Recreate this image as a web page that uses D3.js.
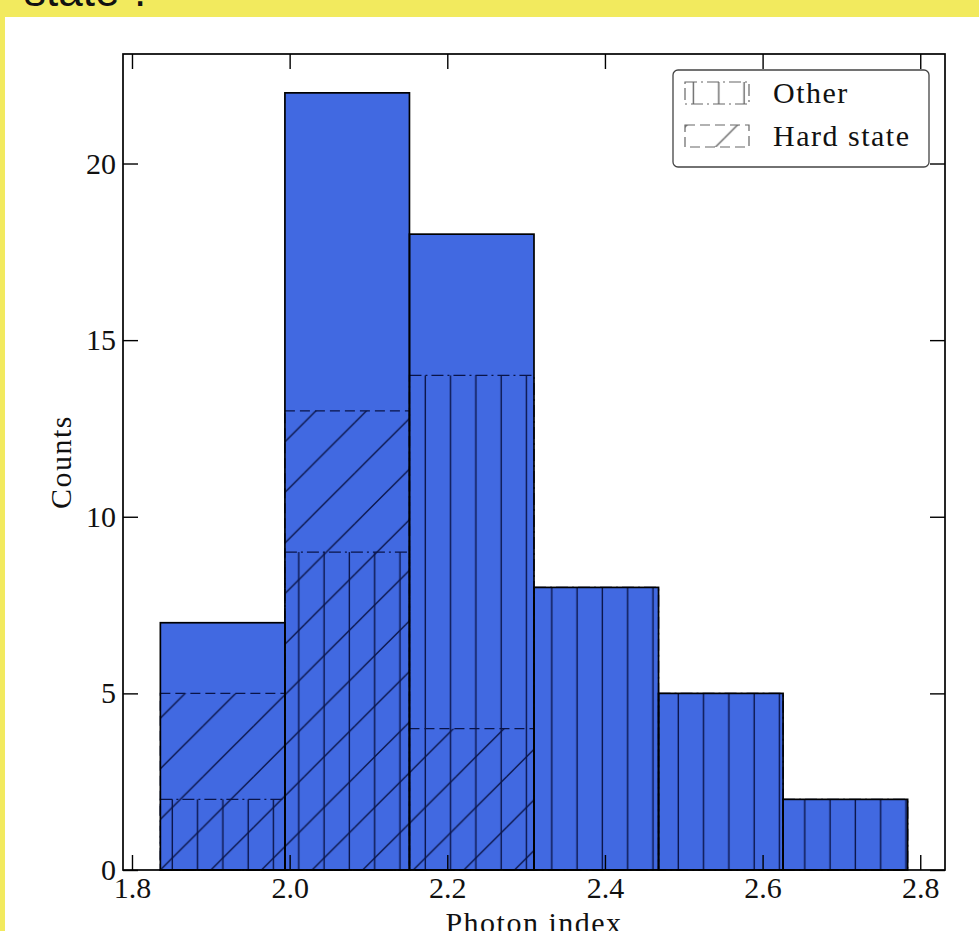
<!DOCTYPE html>
<html>
<head>
<meta charset="utf-8">
<script src="https://cdn.jsdelivr.net/npm/d3@7"></script>
<style>
  html, body { margin: 0; padding: 0; background: #f2ea5e; }
  svg { display: block; }
</style>
</head>
<body>
<div id="chart"></div>
<script>
// histogram bins (photon index) and counts per bin
const binEdges = [1.836, 1.994, 2.152, 2.310, 2.468, 2.626, 2.784];
const totalCounts = [7, 22, 18, 8, 5, 2];
const hardCounts = [5, 13, 4, 0, 0, 0];
const otherCounts = [2, 9, 14, 8, 5, 2];

const xTicks = [1.8, 2.0, 2.2, 2.4, 2.6, 2.8];
const yTicks = [0, 5, 10, 15, 20];
const legendLabels = ["Other", "Hard state"];

const W = 979, H = 931;
const margin = {top: 54, right: 34, bottom: 61, left: 123};
const hatchColor = "#0a1448";
const serif = "'Liberation Serif', 'Times New Roman', serif";

const svg = d3.select("#chart").append("svg")
    .attr("width", W)
    .attr("height", H);

// yellow slide background + white panel
svg.append("rect").attr("width", W).attr("height", H).attr("fill", "#f2ea5e");
svg.append("text")
    .attr("x", 24).attr("y", 6)
    .attr("font-family", "'Liberation Sans', Arial, sans-serif")
    .attr("font-size", 44)
    .attr("fill", "#111")
    .text("state\u201d.");
svg.append("rect").attr("x", 5).attr("y", 17).attr("width", W - 5).attr("height", H - 17).attr("fill", "#ffffff");

// scales, with 5% padding like matplotlib
const span = binEdges[binEdges.length - 1] - binEdges[0];
const x = d3.scaleLinear()
    .domain([binEdges[0] - 0.05 * span, binEdges[binEdges.length - 1] + 0.05 * span])
    .range([margin.left, W - margin.right]);
const y = d3.scaleLinear()
    .domain([0, d3.max(totalCounts) * 1.05])
    .range([H - margin.bottom, margin.top]);

// hatch patterns
const defs = svg.append("defs");
function vHatch(id, color) {
    let p = defs.append("pattern").attr("id", id)
        .attr("patternUnits", "userSpaceOnUse")
        .attr("x", 8.5).attr("y", 0)
        .attr("width", 25.3).attr("height", 20);
    p.append("line").attr("x1", 12).attr("x2", 12).attr("y1", -2).attr("y2", 22)
        .attr("stroke", color).attr("stroke-width", 1.4);
}
function dHatch(id, color) {
    let s = 50.6, c = 18.3;
    let p = defs.append("pattern").attr("id", id)
        .attr("patternUnits", "userSpaceOnUse")
        .attr("x", 0).attr("y", 0)
        .attr("width", s).attr("height", s);
    [-1, 0, 1, 2].forEach(function(k) {
        let v = c + k * s;
        p.append("line")
            .attr("x1", v + 10).attr("y1", -10)
            .attr("x2", v - s - 10).attr("y2", s + 10)
            .attr("stroke", color).attr("stroke-width", 1.4);
    });
}
vHatch("hatch-v", hatchColor);
dHatch("hatch-d", hatchColor);
vHatch("hatch-v-leg", "#666");
dHatch("hatch-d-leg", "#666");

const bins = totalCounts.map(function(c, i) {
    return {x0: binEdges[i], x1: binEdges[i + 1], total: c, hard: hardCounts[i], other: otherCounts[i]};
});

// filled total bars
svg.selectAll(".bar-fill")
    .data(bins)
    .enter().append("rect")
    .attr("class", "bar-fill")
    .attr("x", d => x(d.x0))
    .attr("y", d => y(d.total))
    .attr("width", d => x(d.x1) - x(d.x0))
    .attr("height", d => y(0) - y(d.total))
    .attr("fill", "#4169e1");

// hard state (diagonal hatch, dashed edge)
svg.selectAll(".bar-hard")
    .data(bins.filter(d => d.hard > 0))
    .enter().append("rect")
    .attr("class", "bar-hard")
    .attr("x", d => x(d.x0))
    .attr("y", d => y(d.hard))
    .attr("width", d => x(d.x1) - x(d.x0))
    .attr("height", d => y(0) - y(d.hard))
    .attr("fill", "url(#hatch-d)")
    .attr("stroke", hatchColor)
    .attr("stroke-width", 1.3)
    .attr("stroke-dasharray", "10,5");

// other (vertical hatch, dash-dot edge)
svg.selectAll(".bar-other")
    .data(bins.filter(d => d.other > 0))
    .enter().append("rect")
    .attr("class", "bar-other")
    .attr("x", d => x(d.x0))
    .attr("y", d => y(d.other))
    .attr("width", d => x(d.x1) - x(d.x0))
    .attr("height", d => y(0) - y(d.other))
    .attr("fill", "url(#hatch-v)")
    .attr("stroke", hatchColor)
    .attr("stroke-width", 1.3)
    .attr("stroke-dasharray", "12,4,2,4");

// solid outlines of the total bars
svg.selectAll(".bar-edge")
    .data(bins)
    .enter().append("rect")
    .attr("class", "bar-edge")
    .attr("x", d => x(d.x0))
    .attr("y", d => y(d.total))
    .attr("width", d => x(d.x1) - x(d.x0))
    .attr("height", d => y(0) - y(d.total))
    .attr("fill", "none")
    .attr("stroke", "#000")
    .attr("stroke-width", 1.7);

// axes: ticks inside on all four sides
const tickLen = 15;
function styleAxis(g) {
    g.select(".domain").remove();
    g.selectAll(".tick line").attr("stroke", "#000").attr("stroke-width", 1.4);
    g.selectAll(".tick text")
        .attr("font-family", serif)
        .attr("font-size", 30)
        .attr("fill", "#111");
}
svg.append("g")
    .attr("transform", `translate(0,${y(0)})`)
    .call(d3.axisBottom(x).tickValues(xTicks).tickSizeInner(-tickLen).tickSizeOuter(0)
        .tickPadding(7).tickFormat(d3.format(".1f")))
    .call(styleAxis);
svg.append("g")
    .attr("transform", `translate(0,${margin.top})`)
    .call(d3.axisTop(x).tickValues(xTicks).tickSizeInner(-tickLen).tickSizeOuter(0).tickFormat(""))
    .call(styleAxis);
svg.append("g")
    .attr("transform", `translate(${margin.left},0)`)
    .call(d3.axisLeft(y).tickValues(yTicks).tickSizeInner(-tickLen).tickSizeOuter(0)
        .tickPadding(7).tickFormat(d3.format("d")))
    .call(styleAxis);
svg.append("g")
    .attr("transform", `translate(${W - margin.right},0)`)
    .call(d3.axisRight(y).tickValues(yTicks).tickSizeInner(-tickLen).tickSizeOuter(0).tickFormat(""))
    .call(styleAxis);

// frame
svg.append("rect")
    .attr("x", margin.left).attr("y", margin.top)
    .attr("width", W - margin.right - margin.left)
    .attr("height", H - margin.bottom - margin.top)
    .attr("fill", "none")
    .attr("stroke", "#000")
    .attr("stroke-width", 1.7);

// axis titles
svg.append("text")
    .attr("x", (margin.left + W - margin.right) / 2)
    .attr("y", 933)
    .attr("text-anchor", "middle")
    .attr("font-family", serif)
    .attr("font-size", 30)
    .attr("letter-spacing", 1.5)
    .attr("fill", "#111")
    .text("Photon index");

svg.append("text")
    .attr("transform", `translate(71,${(margin.top + H - margin.bottom) / 2}) rotate(-90)`)
    .attr("text-anchor", "middle")
    .attr("font-family", serif)
    .attr("font-size", 30)
    .attr("letter-spacing", 1.5)
    .attr("fill", "#111")
    .text("Counts");

// legend
const leg = svg.append("g").attr("transform", "translate(673,70)");
leg.append("rect")
    .attr("width", 256).attr("height", 97)
    .attr("rx", 5)
    .attr("fill", "#fff")
    .attr("stroke", "#444")
    .attr("stroke-width", 1.3);

const legItems = [
    {label: legendLabels[0], fill: "url(#hatch-v-leg)", dash: "12,4,2,4"},
    {label: legendLabels[1], fill: "url(#hatch-d-leg)", dash: "10,5"}
];
legItems.forEach(function(it, i) {
    let cy = 23 + i * 43;
    leg.append("rect")
        .attr("x", 12).attr("y", cy - 11)
        .attr("width", 64).attr("height", 22)
        .attr("fill", it.fill)
        .attr("stroke", "#666")
        .attr("stroke-width", 1.2)
        .attr("stroke-dasharray", it.dash);
    leg.append("text")
        .attr("x", 100).attr("y", cy + 10)
        .attr("font-family", serif)
        .attr("font-size", 30)
        .attr("letter-spacing", 1.5)
        .attr("fill", "#111")
        .text(it.label);
});
</script>
</body>
</html>
